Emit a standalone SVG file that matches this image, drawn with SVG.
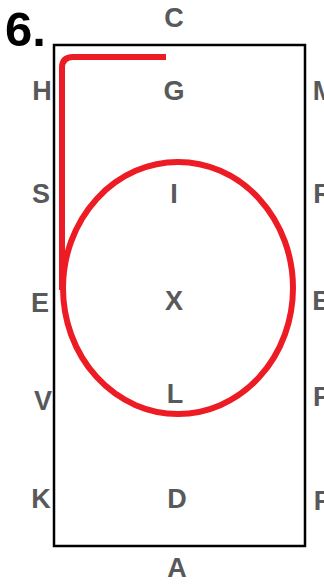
<svg xmlns="http://www.w3.org/2000/svg" width="324" height="588" viewBox="0 0 324 588">
<style>
.lbl{font-family:"Liberation Sans",Arial,sans-serif;font-weight:bold;font-size:27px;fill:#58595b;text-anchor:middle}
.red{fill:none;stroke:#ed1c24;stroke-width:6}
</style>
<rect width="324" height="588" fill="#fff"/>
<text x="5" y="46" font-family="Liberation Sans,Arial,sans-serif" font-weight="bold" font-size="49" fill="#000">6.</text>
<g id="arena"><rect x="54" y="45" width="251" height="501" fill="none" stroke="#000" stroke-width="2.5"/></g>
<g id="letters">
<text class="lbl" x="174" y="27">C</text>
<text class="lbl" x="174" y="100">G</text>
<text class="lbl" x="42" y="100">H</text>
<text class="lbl" x="324" y="100">M</text>
<text class="lbl" x="41" y="203">S</text>
<text class="lbl" x="174" y="203">I</text>
<text class="lbl" x="323" y="203">R</text>
<text class="lbl" x="40" y="312">E</text>
<text class="lbl" x="174" y="310">X</text>
<text class="lbl" x="322" y="310">B</text>
<text class="lbl" x="43" y="410">V</text>
<text class="lbl" x="175" y="403">L</text>
<text class="lbl" x="322" y="406">P</text>
<text class="lbl" x="41" y="508">K</text>
<text class="lbl" x="177" y="508">D</text>
<text class="lbl" x="322" y="510">F</text>
<text class="lbl" x="177" y="577">A</text>
</g>
<g id="route">
<path class="red" d="M166,57 H73 Q62,57 62,68 V290"/>
<ellipse class="red" cx="178" cy="288" rx="115" ry="126"/>
</g>
</svg>
